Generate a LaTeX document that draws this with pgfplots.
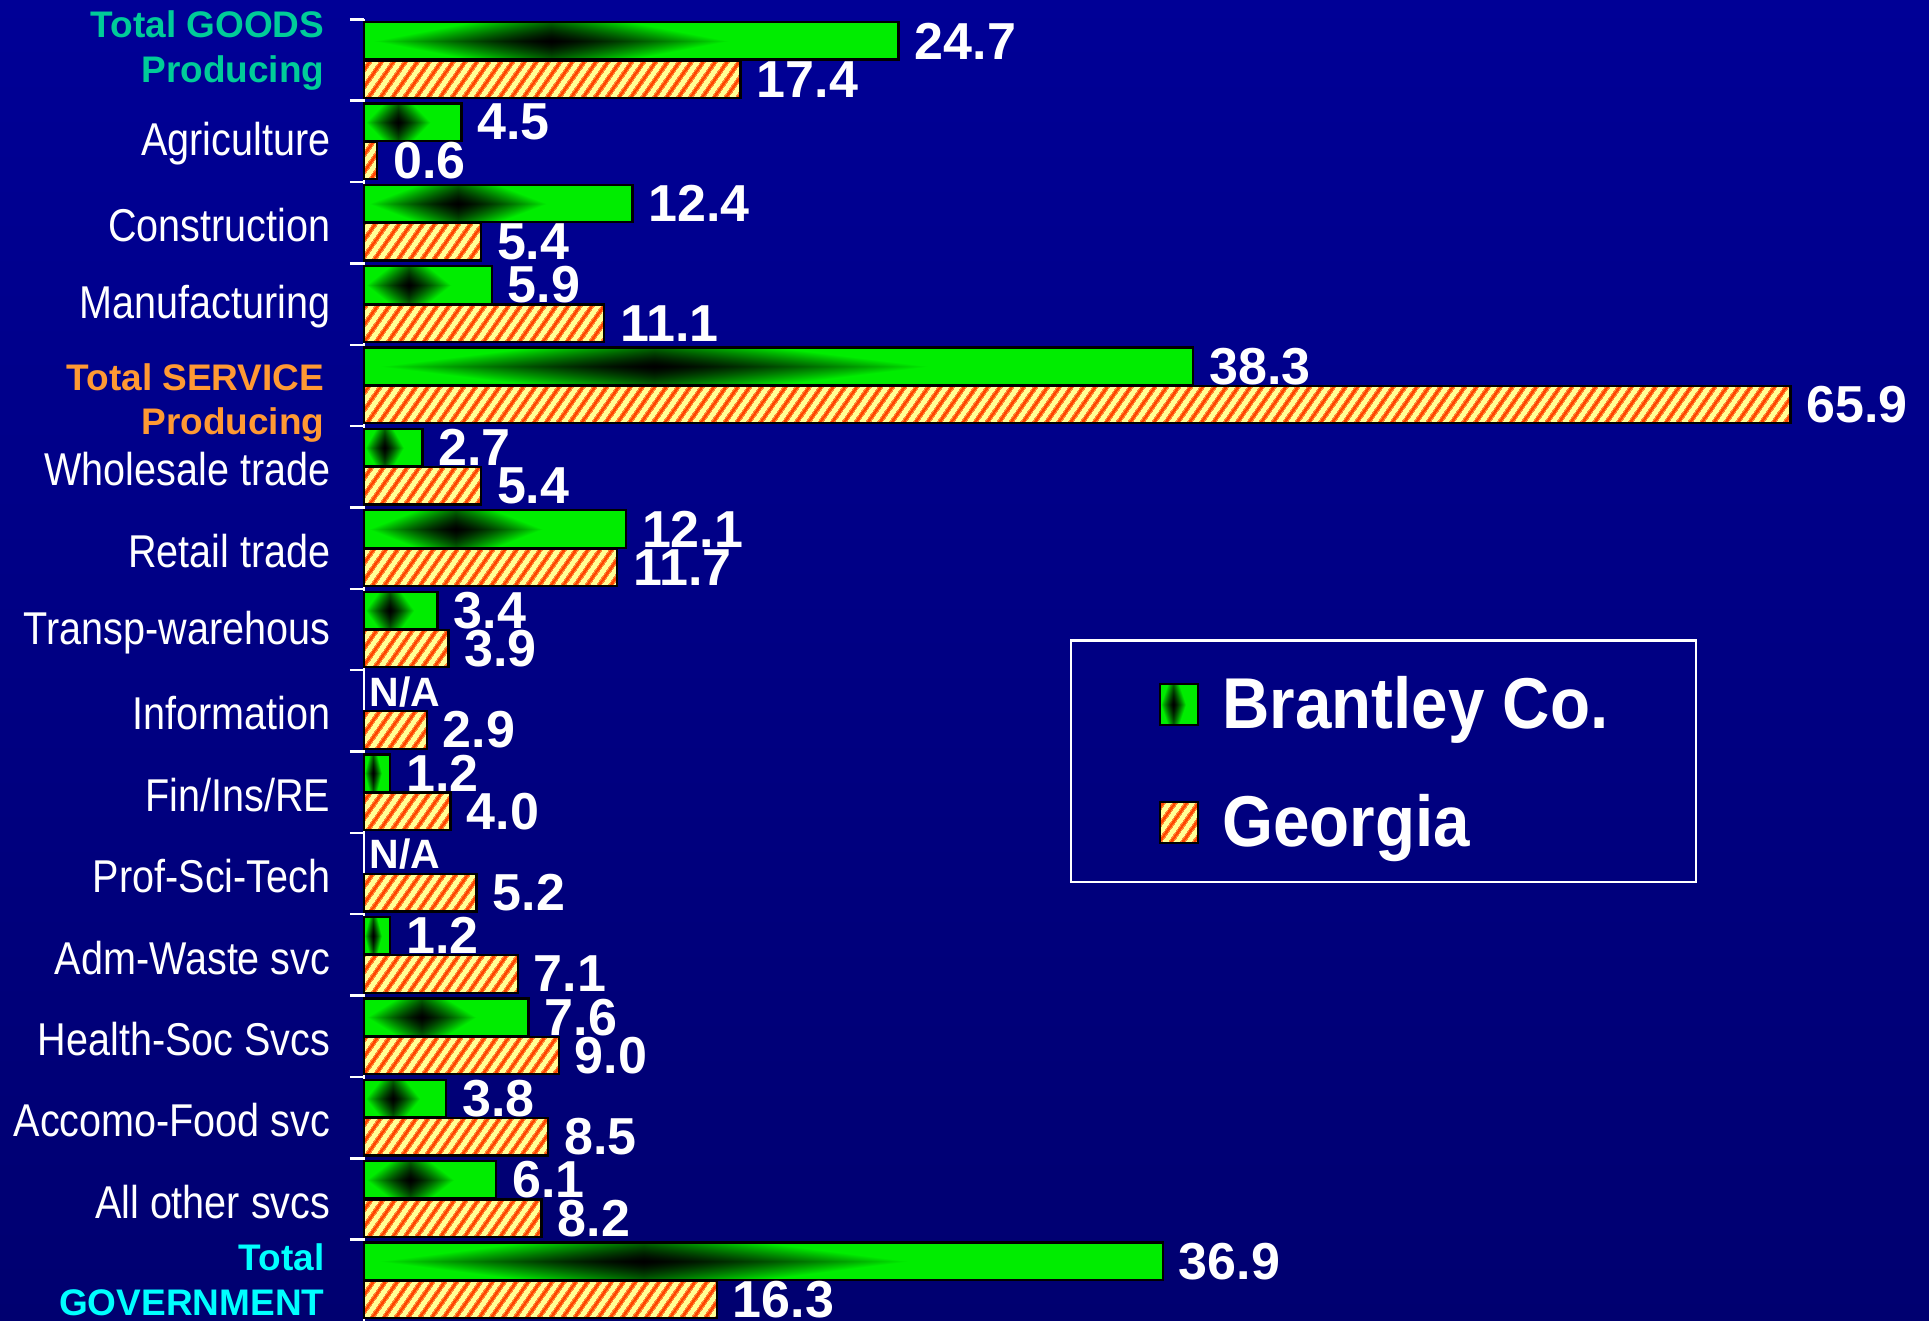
\documentclass[border=0pt]{standalone}
\usepackage{fontspec}
\setmainfont{Liberation Sans}
\newfontfamily\narrow{Liberation Sans}[FakeStretch=0.86]
\newfontfamily\legfont{Liberation Sans}[FakeStretch=0.91]
\usepackage{pgfplots}
\pgfplotsset{compat=1.18}
\usetikzlibrary{patterns.meta}

\definecolor{bgtop}{RGB}{0,0,150}
\definecolor{bgbot}{RGB}{0,0,112}
\definecolor{hatchbg}{RGB}{255,255,150}
\definecolor{hatchfg}{RGB}{255,70,0}
\definecolor{goodsc}{RGB}{0,204,153}
\definecolor{servc}{RGB}{255,153,51}
\definecolor{govc}{RGB}{0,255,255}

% green bars: dark core, bright green edges
\pgfdeclarefunctionalshading{rectgreen}{\pgfpoint{-50bp}{-50bp}}{\pgfpoint{50bp}{50bp}}{}{
 abs 25 div 0.55 mul exch 7.5 add abs 25 div 1.5 mul add
 dup 1 gt {pop 1} if 1.4 exp 0.93 mul 0 exch 0
}

% red stripes on the yellow Georgia bars
\tikzdeclarepattern{
 name=gastripes, type=colored,
 bottom left={(0pt,0pt)}, top right={(3.1pt,3.1pt)},
 tile size={(3.1pt,3.1pt)},
 tile transformation={rotate=-35},
 code={\fill[hatchfg] (0.9pt,-0.1pt) rectangle (2.2pt,3.2pt);}
}

\pgfplotsset{
 boxlegend/.style={legend image code/.code={\draw[##1, line width=0.7pt] (0pt,-6.9pt) rectangle (11.4pt,5.4pt);}},
 % one plot per green bar, so that each bar gets its own shading
 brantley/.style={xbar, bar width=0.46, bar shift=-0.235, draw=black, line width=0.7pt,
  shade, shading=rectgreen, nodes near coords, point meta=x, boxlegend,
  every node near coord/.append style={yshift=5.74pt}},
 georgia/.style={xbar, bar width=0.46, bar shift=0.235, draw=black, line width=0.7pt,
  fill=hatchbg, postaction={pattern=gastripes}, nodes near coords, point meta=x, boxlegend,
  every node near coord/.append style={yshift=-5.74pt}},
}

\newcommand\grp[3]{\raisebox{#2}[\height][\depth]{\color{#1}\rmfamily\bfseries\fontsize{11.1pt}{13.3pt}\selectfont\begin{tabular}{@{}r@{}}#3\end{tabular}}\hspace*{1.8pt}}

\begin{document}
\begin{tikzpicture}
\shade[top color=bgtop, bottom color=bgbot] (0,0) rectangle (578.7pt,396.3pt);
\begin{axis}[
 at={(109.2pt,0pt)}, anchor=south west,
 scale only axis, width=469.5pt, height=390.5pt,
 xmin=0, xmax=72.3, ymin=-0.5, ymax=15.5, y dir=reverse,
 enlargelimits=false, clip=false,
 hide x axis, axis y line*=left,
 y axis line style={white, line width=0.75pt},
 tick style={white, line width=0.75pt},
 tick align=outside, major tick length=0pt, minor tick length=4.2pt,
 ytick={0,...,15},
 minor ytick={-0.5,0.5,...,14.5},
 yticklabel style={text=white, font=\narrow\fontsize{13.8pt}{16pt}\selectfont, anchor=east, inner sep=0pt, xshift=-9.9pt, yshift=-0.8pt},
 yticklabels={
  {\grp{goodsc}{3.5pt}{Total GOODS\\Producing}},
  Agriculture, Construction, Manufacturing,
  {\grp{servc}{-4.7pt}{Total SERVICE\\Producing}},
  Wholesale trade, Retail trade, Transp-warehous, Information, Fin/Ins/RE,
  Prof-Sci-Tech, Adm-Waste svc, Health-Soc Svcs, Accomo-Food svc, All other svcs,
  {\grp{govc}{-0.3pt}{Total\\GOVERNMENT}}},
 /pgf/number format/fixed, /pgf/number format/fixed zerofill,
 /pgf/number format/precision=1, /pgf/number format/assume math mode=true,
 nodes near coords align={horizontal},
 every node near coord/.append style={font=\bfseries\fontsize{15.6pt}{18pt}\selectfont, text=white, inner sep=0pt, xshift=4.5pt, anchor=west},
 legend cell align=left,
 legend style={
  at={(0.451,0.524)}, anchor=north west,
  draw=white, line width=0.8pt, fill=none,
  inner xsep=26.3pt, inner ysep=7.6pt,
  font=\legfont\bfseries\fontsize{21.6pt}{24pt}\selectfont, text=white,
  row sep=13.7pt,
  nodes={inner sep=0pt, text height=18.8pt, text depth=3pt},
  /tikz/every odd column/.append style={column sep=7pt}},
]
% Brantley Co.
\addplot[brantley] coordinates {(24.7,0)};
\addlegendentry{Brantley Co.}
\addplot[brantley, forget plot] coordinates {(4.5,1)};
\addplot[brantley, forget plot] coordinates {(12.4,2)};
\addplot[brantley, forget plot] coordinates {(5.9,3)};
\addplot[brantley, forget plot] coordinates {(38.3,4)};
\addplot[brantley, forget plot] coordinates {(2.7,5)};
\addplot[brantley, forget plot] coordinates {(12.1,6)};
\addplot[brantley, forget plot] coordinates {(3.4,7)};
\addplot[brantley, forget plot] coordinates {(1.2,9)};
\addplot[brantley, forget plot] coordinates {(1.2,11)};
\addplot[brantley, forget plot] coordinates {(7.6,12)};
\addplot[brantley, forget plot] coordinates {(3.8,13)};
\addplot[brantley, forget plot] coordinates {(6.1,14)};
\addplot[brantley, forget plot] coordinates {(36.9,15)};
% Georgia
\addplot[georgia] coordinates {(17.4,0) (0.6,1) (5.4,2) (11.1,3) (65.9,4) (5.4,5) (11.7,6) (3.9,7)
  (2.9,8) (4.0,9) (5.2,10) (7.1,11) (9.0,12) (8.5,13) (8.2,14) (16.3,15)};
\addlegendentry{Georgia}
% no Brantley data
\addplot[xbar, bar width=0.46, bar shift=-0.235, draw=none, fill=none, forget plot,
 nodes near coords={N/A},
 every node near coord/.append style={font=\bfseries\fontsize{12.3pt}{14pt}\selectfont, xshift=-3pt, yshift=5.74pt}]
 coordinates {(0,8) (0,10)};
\end{axis}
\pgfresetboundingbox
\path[use as bounding box] (0,0) rectangle (578.7pt,396.3pt);
\end{tikzpicture}
\end{document}
